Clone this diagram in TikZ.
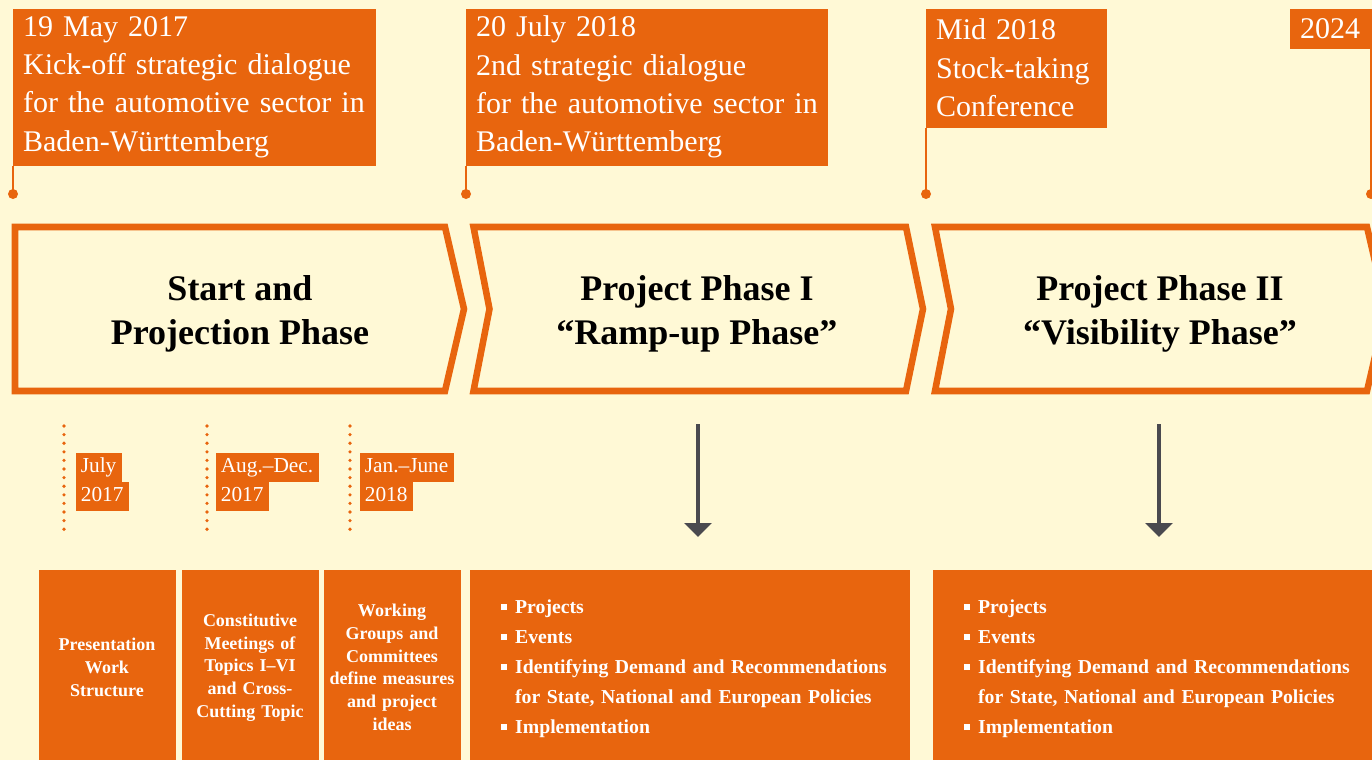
\documentclass[tikz,border=0pt]{standalone}
\usepackage{fontspec}
\setmainfont{Liberation Serif}
\newfontfamily\flagfont{Liberation Serif}[WordSpace=0.85]
\usetikzlibrary{arrows.meta}

\definecolor{phaseorange}{RGB}{232,101,14}
\definecolor{cream}{RGB}{255,249,214}
\definecolor{arrowgrey}{RGB}{74,74,79}

\newcommand{\datebar}[1]{{\setlength{\fboxsep}{0pt}\colorbox{phaseorange}{\rule[-6.5pt]{0pt}{21.75pt}\hspace{4pt}#1\hspace{4pt}}}}
\newcommand{\sqbullet}{\rule[2.5pt]{4.5pt}{4.5pt}}

\tikzset{every picture/.style={line width=0.75pt}}
\tikzset{
  flag/.style={fill=phaseorange, text=white, anchor=north west, align=left, inner xsep=8pt, inner ysep=0pt, font=\flagfont\fontsize{22.5}{28.75}\selectfont},
  pole/.style={draw=phaseorange, line width=2pt},
  chevron/.style={draw=phaseorange, line width=4.9pt, miter limit=10},
  phasetitle/.style={align=center, font=\bfseries\fontsize{27}{32.5}\selectfont},
  datelabel/.style={anchor=north west, inner sep=0pt, align=left, text=white, font=\fontsize{16}{21.75}\selectfont},
  monthdots/.style={draw=phaseorange, line width=2.7pt, line cap=round, dash pattern=on 0pt off 6.45pt},
  stagebox/.style={fill=phaseorange, text=white, anchor=north west, align=center, inner sep=0pt, minimum height=147pt, font=\bfseries\fontsize{13.5}{17}\selectfont},
  phasearrow/.style={draw=arrowgrey, line width=3pt, -{Triangle[width=20pt,length=10.5pt]}}
}

\begin{document}
\begin{tikzpicture}[x=0.75pt,y=0.75pt,yscale=-1,xscale=1]
  \useasboundingbox (0,0) rectangle (1372,760);
  \fill[cream] (0,0) rectangle (1372,760);

  % Flags
  \node[flag, text width=256.25pt, minimum height=117.75pt] (kickoff) at (12,8) {19 May 2017\\Kick-off strategic dialogue\\\mbox{for the automotive sector in}\\Baden-Württemberg};
  \node[flag, text width=256pt, minimum height=117.75pt] (second) at (465,8) {20 July 2018\\2nd strategic dialogue\\\mbox{for the automotive sector in}\\Baden-Württemberg};
  \node[flag, text width=119.75pt, minimum height=89.25pt] (stock) at (925,8) {Mid 2018\\Stock-taking\\Conference};
  \node[flag, text width=46.25pt, minimum height=30pt] (year) at (1289,8) {2024};

  \coordinate (dotA) at (13,194);
  \coordinate (dotB) at (466,194);
  \coordinate (dotC) at (926,194);
  \coordinate (dotD) at (1371,194);
  \draw[pole] (kickoff.south west -| dotA) -- (dotA);
  \draw[pole] (second.south west -| dotB) -- (dotB);
  \draw[pole] (stock.south west -| dotC) -- (dotC);
  \draw[pole] (year.south east -| dotD) -- (dotD);
  \fill[phaseorange] (dotA) circle (3.75pt) (dotB) circle (3.75pt) (dotC) circle (3.75pt) (dotD) circle (3.75pt);

  %Shape: Chevron [start]
  \draw[chevron] (15,227) -- (445,227) -- (464,309) -- (445,391) -- (15,391) -- cycle ;
  %Shape: Chevron [phase I]
  \draw[chevron] (473.5,227) -- (906,227) -- (923,309) -- (906,391) -- (473.5,391) -- (489.5,309) -- cycle ;
  %Shape: Chevron [phase II]
  \draw[chevron] (935,227) -- (1367,227) -- (1386,309) -- (1367,391) -- (935,391) -- (951,309) -- cycle ;

  % Text Node
  \node[phasetitle] (startTitle) at (240,314) {Start and\\Projection Phase};
  % Text Node
  \node[phasetitle] (rampTitle) at (697,314) {Project Phase I\\“Ramp-up Phase”};
  % Text Node
  \node[phasetitle] (visTitle) at (1160,314) {Project Phase II\\“Visibility Phase”};

  % Dotted month markers
  \draw[monthdots] (64,426) -- (64,536);
  \draw[monthdots] (207,426) -- (207,536);
  \draw[monthdots] (350,426) -- (350,536);
  \node[datelabel] (julyDate) at (75,452) {\datebar{July}\\\datebar{2017}};
  \node[datelabel] (augDate) at (215,452) {\datebar{Aug.–Dec.}\\\datebar{2017}};
  \node[datelabel] (janDate) at (359,452) {\datebar{Jan.–June}\\\datebar{2018}};

  % Stage boxes
  \node[stagebox, minimum width=102.75pt, text width=100pt] (presWork) at (38,569) {Presentation\\Work\\Structure};
  \node[stagebox, minimum width=102.75pt, text width=100pt] (constMeet) at (181,569) {Constitutive\\Meetings of\\Topics I–VI\\and Cross-\\Cutting Topic};
  \node[stagebox, minimum width=102.75pt, text width=100pt] (workGroups) at (323,569) {Working\\Groups and\\Committees\\define measures\\and project\\ideas};

  \node[stagebox, align=left, inner xsep=23.25pt, text width=283.5pt, font=\bfseries\fontsize{14.8}{22.5}\selectfont] (implI) at (469,569) {%
    \begin{tabular}{@{}l@{\hspace{6.5pt}}l@{}}
      \sqbullet & Projects\\
      \sqbullet & Events\\
      \sqbullet & Identifying Demand and Recommendations\\
                & for State, National and European Policies\\
      \sqbullet & Implementation
    \end{tabular}};
  \node[stagebox, align=left, inner xsep=23.25pt, text width=283.5pt, font=\bfseries\fontsize{14.8}{22.5}\selectfont] (implII) at (932,569) {%
    \begin{tabular}{@{}l@{\hspace{6.5pt}}l@{}}
      \sqbullet & Projects\\
      \sqbullet & Events\\
      \sqbullet & Identifying Demand and Recommendations\\
                & for State, National and European Policies\\
      \sqbullet & Implementation
    \end{tabular}};

  % Arrows
  \coordinate (arrI) at (698,424);
  \coordinate (arrII) at (1159,424);
  \draw[phasearrow, shorten >=24pt] (arrI) -- (arrI |- implI.north);
  \draw[phasearrow, shorten >=24pt] (arrII) -- (arrII |- implII.north);

\end{tikzpicture}
\end{document}
